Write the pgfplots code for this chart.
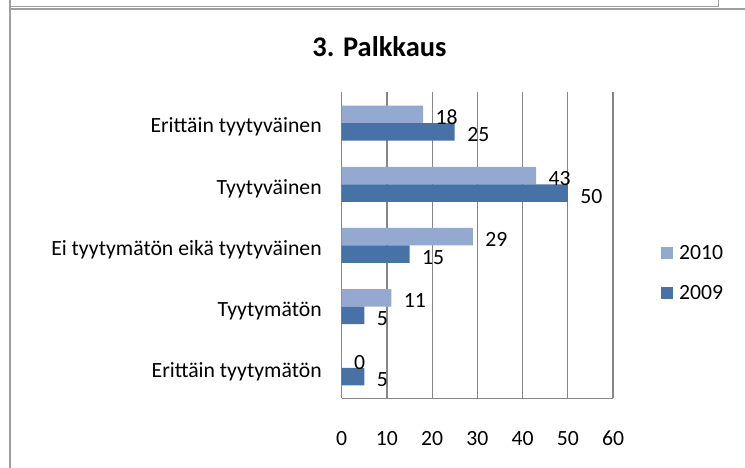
\documentclass[border=0pt]{standalone}
\usepackage{pgfplots}
\pgfplotsset{compat=1.18}
\usepackage{fontspec}
\setmainfont{Carlito}
\definecolor{lightbar}{RGB}{148,169,208}
\definecolor{darkbar}{RGB}{70,114,168}
\definecolor{gridgray}{RGB}{134,134,134}
\definecolor{framegray}{RGB}{160,160,160}
\begin{document}
\begin{tikzpicture}[x=1pt,y=1pt]
\useasboundingbox (0,0) rectangle (745,468);
% frame
\draw[framegray, line width=1pt] (9.5,461) -- (718,461) -- (718,468);
\draw[framegray, line width=2pt] (9.5,468) -- (9.5,0);
\draw[framegray, line width=2pt] (8.5,458.7) -- (745,458.7);
% title
\node[font=\bfseries\fontsize{28.5}{34}\selectfont, anchor=base, inner sep=0pt] at (379.5,411.3) {3. Palkkaus};
\begin{axis}[
  at={(341.7pt,69.5pt)}, anchor=south west,
  width=271.3pt, height=306pt, scale only axis,
  xbar, bar width=17.5pt,
  xmin=0, xmax=60, ymin=-0.5, ymax=4.5,
  xtick={0,10,...,60},
  ytick={0,1,2,3,4},
  yticklabels={Erittäin tyytymätön, Tyytymätön, Ei tyytymätön eikä tyytyväinen, Tyytyväinen, Erittäin tyytyväinen},
  /pgf/number format/assume math mode=true,
  axis lines*=left,
  axis line style={-, draw=gridgray, line width=1.2pt},
  xmajorgrids, grid style={draw=gridgray, line width=1.2pt},
  major tick length=0pt,
  tick label style={font=\fontsize{21.7}{26}\selectfont, text=black},
  xticklabel style={yshift=-29pt},
  yticklabel style={xshift=-16.5pt, yshift=-4pt},
  nodes near coords, nodes near coords align={horizontal},
  every node near coord/.append style={font=\fontsize{21.7}{26}\selectfont, text=black, xshift=9pt, yshift=-3pt},
  legend style={draw=none, fill=none, at={(1.177,0.50)}, anchor=north west, font=\fontsize{21.7}{26}\selectfont, row sep=24pt, inner sep=0pt, nodes={inner sep=0pt}},
  legend cell align=left,
  legend image code/.code={\fill[#1] (0pt,-6pt) rectangle (12pt,6pt);},
  /tikz/every odd column/.style={column sep=6pt},
]
\addplot[fill=lightbar, draw=none, bar shift=8.75pt] coordinates {(0,0) (11,1) (29,2) (43,3) (18,4)};
\addlegendentry{2010}
\addplot[fill=darkbar, draw=none, bar shift=-8.75pt] coordinates {(5,0) (5,1) (15,2) (50,3) (25,4)};
\addlegendentry{2009}
\end{axis}
\end{tikzpicture}
\end{document}
